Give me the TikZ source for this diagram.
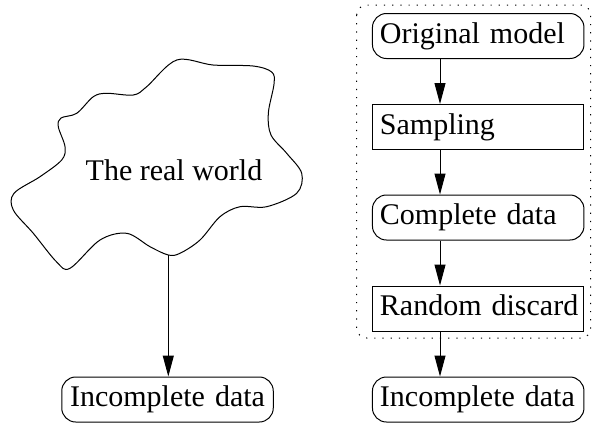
\documentclass[tikz,border=0pt]{standalone}
\usepackage{fontspec}
\setmainfont{Liberation Serif}
\usetikzlibrary{arrows.meta}
\begin{document}
\begin{tikzpicture}[x=1pt,y=-1pt,
  every node/.style={font=\fontsize{30}{36}\selectfont},
  rbox/.style={draw, line width=1pt, rounded corners=14pt, minimum height=45pt,
    text width=211.5pt, inner xsep=0pt, inner ysep=0pt, align=left,
    text height=21pt, text depth=6.4pt, execute at begin node={\hspace*{7.5pt}}},
  sbox/.style={rbox, rounded corners=0pt},
  cbox/.style={draw, line width=1pt, rounded corners=14pt, minimum height=45pt,
    text width=211.5pt, inner xsep=0pt, inner ysep=0pt, align=center,
    text height=21pt, text depth=6.4pt},
  arr/.style={line width=1pt, -{Triangle[length=21pt,width=11pt]}},
  frame/.style={line width=1pt, dash pattern=on 1.2pt off 7pt, rounded corners=10pt}]
\useasboundingbox (0,0) rectangle (593,423);
% cloud
\draw[line width=1pt] plot[smooth cycle, tension=0.55] coordinates {
 (176.7,60) (213,65) (253,66) (271.7,72) (274,84) (268.3,113.3) (271,135)
 (286.7,153.3) (301.7,173.3) (296.7,193.3) (266.7,206.7) (240,206.7)
 (220,216.7) (200,240) (180,253.3) (168.3,255) (150,246.7) (126.7,233.3)
 (100,240) (70,268.3) (56.7,262) (33.3,233.3) (13.3,210) (14,193.3)
 (40,176.7) (61.7,160) (65,146.7) (58.3,126.7) (61,118) (76.7,113.3)
 (93.3,96.7) (106.7,93.3) (133.3,95) (146.7,86.7)};
\node[anchor=base] (world) at (174,180) {The real world};
\coordinate (cb) at (168.3,255);
\node[cbox] (incL) at (167.5,399.5) {Incomplete data};
\draw[arr] (cb) -- (incL.north -| cb);
% right chain
\draw[frame] (356.7,5) rectangle (590.7,338);
\node[rbox] (om) at (478.2,36) {Original model};
\node[sbox] (samp) at (478.2,127) {Sampling};
\node[rbox] (comp) at (478.2,217.5) {Complete data};
\node[sbox] (disc) at (478.2,308.5) {Random discard};
\node[rbox] (incR) at (478.2,399.5) {Incomplete data};
\coordinate (ax) at (440,0);
\draw[arr] (om.south -| ax) -- (samp.north -| ax);
\draw[arr] (samp.south -| ax) -- (comp.north -| ax);
\draw[arr] (comp.south -| ax) -- (disc.north -| ax);
\draw[arr] (disc.south -| ax) -- (incR.north -| ax);
\end{tikzpicture}
\end{document}
